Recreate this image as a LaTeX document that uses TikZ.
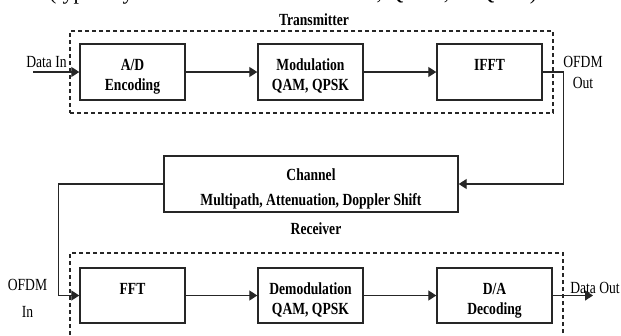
\documentclass[tikz,border=0pt]{standalone}
\usepackage{fontspec}
\setmainfont{Liberation Serif}[FakeStretch=0.8]
\newfontfamily\toplinefont{Liberation Serif}
\usetikzlibrary{arrows.meta}

% two-line block label with fixed top and bottom struts, so all blocks align alike
\newcommand\blocklabel[2]{\rule{0pt}{22pt}#1\\#2\rule[-5pt]{0pt}{5pt}}

\tikzset{
  blockbox/.style={draw=black!85, line width=1.4pt, inner sep=0pt, align=center,
    font=\bfseries\fontsize{17}{20}\selectfont},
  groupbox/.style={draw=black!85, line width=1.2pt, dash pattern=on 4pt off 3pt, inner sep=0pt},
  grouptitle/.style={font=\bfseries\fontsize{17}{20}\selectfont},
  portlabel/.style={align=center, inner sep=0pt, font=\fontsize{17}{21}\selectfont},
  flow/.style={draw=black!85, line width=1.3pt, -{Triangle[length=8pt,width=10pt]}},
  prevline/.style={inner sep=0pt, font=\toplinefont\fontsize{22}{26}\selectfont},
}

\begin{document}
\begin{tikzpicture}[x=1pt, y=-1pt]
  \clip (0,0) rectangle (621,335);
  \fill[white] (0,0) rectangle (621,335);

  % tail of the preceding text line, mostly above the top edge
  \node[prevline, anchor=base west] (prevA) at (49,-1) {(typically};
  \node[prevline, anchor=base east] (prevB) at (543,-1) {BPSK, QPSK, or QAM).};

  % transmitter group
  \node[groupbox, minimum width=483, minimum height=82] (tx) at (311.5,72) {};
  \node[grouptitle] (txt) at (314,20) {Transmitter};
  \node[blockbox, minimum width=105, minimum height=56] (ad) at (132.5,72) {\blocklabel{A/D}{Encoding}};
  \node[blockbox, minimum width=105, minimum height=56] (mod) at (310.5,72) {\blocklabel{Modulation}{QAM, QPSK}};
  \node[blockbox, minimum width=105, minimum height=56] (ifft) at (489.5,72) {\blocklabel{IFFT}{\mbox{}}};

  % channel
  \node[blockbox, minimum width=294, minimum height=56, font=\bfseries\fontsize{17}{25}\selectfont] (chan) at (311,184) {\blocklabel{Channel}{Multipath, Attenuation, Doppler Shift}};

  % receiver group
  \node[grouptitle] (rxt) at (316,229) {Receiver};
  \node[groupbox, minimum width=493, minimum height=84] (rx) at (316.5,295) {};
  \node[blockbox, minimum width=105, minimum height=55] (fft) at (132.5,295.5) {\blocklabel{FFT}{\mbox{}}};
  \node[blockbox, minimum width=105, minimum height=55] (demod) at (310.5,295.5) {\blocklabel{Demodulation}{QAM, QPSK}};
  \node[blockbox, minimum width=115, minimum height=55] (da) at (494.5,295.5) {\blocklabel{D/A}{Decoding}};

  % port labels
  \node[portlabel] (din) at (46.5,62) {Data In};
  \node[portlabel, font=\fontsize{17}{21}\selectfont] (oout) at (583,72) {OFDM\\Out};
  \node[portlabel, font=\fontsize{17}{27}\selectfont] (oin) at (27.5,298) {OFDM\\In};
  \node[portlabel] (dout) at (595,288) {Data Out};

  \coordinate (src) at (33,72);
  \coordinate (sink) at (593,295.5);

  % connectors
  \draw[flow] (src) -- (ad.west);
  \draw[flow] (ad.east) -- (mod.west);
  \draw[flow] (mod.east) -- (ifft.west);
  \draw[flow] (ifft.east) -- ++(21,0) |- (chan.east);
  \draw[flow] (chan.west) -- ++(-105,0) |- (fft.west);
  \draw[flow] (fft.east) -- (demod.west);
  \draw[flow] (demod.east) -- (da.west);
  \draw[flow] (da.east) -- (sink);
\end{tikzpicture}
\end{document}
